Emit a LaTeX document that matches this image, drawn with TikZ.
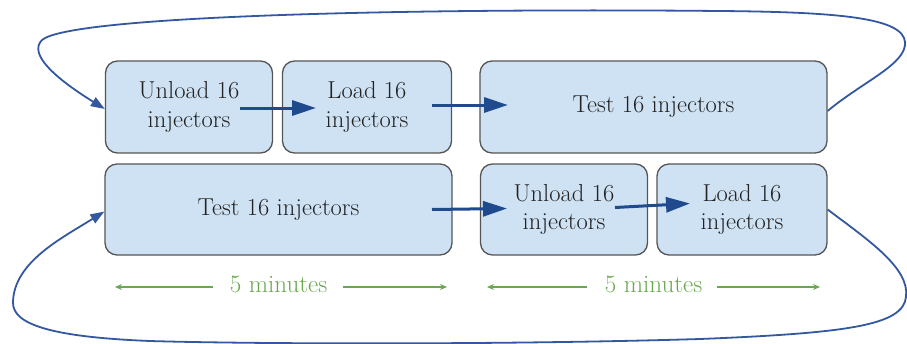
\documentclass[tikz,border=0pt]{standalone}
\usepackage{fontspec}
\usetikzlibrary{arrows.meta}
\definecolor{boxfill}{HTML}{CFE2F3}
\definecolor{boxline}{HTML}{555555}
\definecolor{arrowblue}{HTML}{1F4A8E}
\definecolor{loopblue}{HTML}{3458A0}
\definecolor{timegreen}{HTML}{6AA84F}
\definecolor{textdark}{HTML}{222222}
\begin{document}
\begin{tikzpicture}[x=1pt,y=-1pt,
  stepbox/.style={draw=boxline, line width=1.3pt, fill=boxfill, rounded corners=12pt,
    inner sep=0pt, align=center, font=\rmfamily\fontsize{24.5}{28.5}\selectfont, text=textdark},
  flowarrow/.style={draw=arrowblue, line width=3pt, -{Triangle[length=24pt,width=15pt]}},
  looparrow/.style={draw=loopblue, line width=1.8pt, -{Triangle[length=14pt,width=10pt]}},
  timearrow/.style={draw=timegreen, line width=1.1pt, -{Stealth[length=7pt,width=6pt]}},
  timelabel/.style={text=timegreen, inner xsep=0pt, inner ysep=0pt, font=\rmfamily\fontsize{25}{28}\selectfont, anchor=base}
]
\useasboundingbox (0,0) rectangle (907,343);

% top row
\node[stepbox, minimum width=167pt, minimum height=92pt] (U1) at (189,107) {Unload 16\\injectors};
\node[stepbox, minimum width=169pt, minimum height=92pt] (L1) at (367,107) {Load 16\\injectors};
\node[stepbox, minimum width=347pt, minimum height=92pt] (T1) at (653.5,107) {Test 16 injectors};
% bottom row
\node[stepbox, minimum width=347pt, minimum height=91pt] (T2) at (278.5,209.5) {Test 16 injectors};
\node[stepbox, minimum width=167pt, minimum height=91pt] (U2) at (564,209.5) {Unload 16\\injectors};
\node[stepbox, minimum width=170pt, minimum height=91pt] (L2) at (742,209.5) {Load 16\\injectors};

% flow arrows
\draw[flowarrow] ([shift={(51,1)}]U1.center) -- ([shift={(-51,1)}]L1.center);
\draw[flowarrow] ([shift={(65,-2)}]L1.center) -- ([shift={(-145.5,-2)}]T1.center);
\draw[flowarrow] ([shift={(153.5,0)}]T2.center) -- ([shift={(-57,-1)}]U2.center);
\draw[flowarrow] ([shift={(51,-2)}]U2.center) -- ([shift={(-52,-6)}]L2.center);

% loops
\draw[looparrow] ([yshift=-4pt]T1.east) .. controls (862,82) and (907,64) .. (905,42)
  .. controls (903,18) and (840,12) .. (720,11)
  .. controls (400,8) and (70,16) .. (42,40)
  .. controls (28,54) and (55,78) .. ([yshift=-2pt]U1.west);
\draw[looparrow] (L2.east) .. controls (868,240) and (910,268) .. (906,297)
  .. controls (903,325) and (850,333) .. (700,339)
  .. controls (500,345) and (250,344) .. (150,341)
  .. controls (50,337) and (12,324) .. (13,302)
  .. controls (14,262) and (62,238) .. ([yshift=-2pt]T2.west);

% time spans
\node[timelabel] (M1) at (278.5,292) {5 minutes};
\node[timelabel] (M2) at (653.5,292) {5 minutes};
\coordinate (G1l) at (115,287);
\coordinate (G1r) at (447,287);
\coordinate (G2l) at (487,287);
\coordinate (G2r) at (820,287);
\draw[timearrow] ([xshift=-17pt]M1.west |- G1l) -- (G1l);
\draw[timearrow] ([xshift=16pt]M1.east |- G1r) -- (G1r);
\draw[timearrow] ([xshift=-18pt]M2.west |- G2l) -- (G2l);
\draw[timearrow] ([xshift=15pt]M2.east |- G2r) -- (G2r);
\end{tikzpicture}
\end{document}
